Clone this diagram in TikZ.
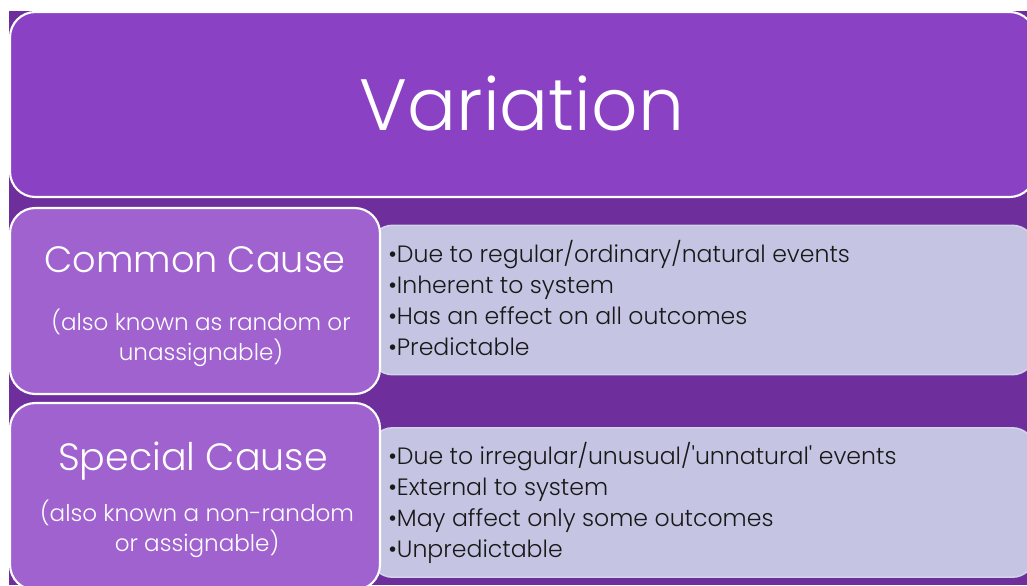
\documentclass[tikz,border=0pt]{standalone}
\usepackage{fontspec}
\setmainfont{Poppins}[UprightFont=* Light]
\definecolor{slidebg}{HTML}{6E2F9D}
\definecolor{topfill}{HTML}{8B41C3}
\definecolor{causefill}{HTML}{A062CF}
\definecolor{listfill}{HTML}{C5C5E3}
\definecolor{listedge}{HTML}{D2D2EA}
\begin{document}
\begin{tikzpicture}[x=0.75pt,y=-0.75pt,
  topbox/.style={draw=white,line width=1.6pt,rounded corners=19pt,fill=topfill,inner sep=0pt},
  causebox/.style={draw=white,line width=1.6pt,rounded corners=19pt,fill=causefill,inner sep=0pt,
    minimum width=277.5pt,minimum height=139.5pt},
  listbox/.style={draw=listedge,line width=1.2pt,rounded corners=17pt,fill=listfill,inner sep=0pt,
    minimum width=498.75pt,minimum height=112pt},
  heading/.style={text=white,font=\fontsize{27.5}{30}\selectfont},
  aside/.style={text=white,font=\fontsize{17.3}{22.5}\selectfont,align=center},
  points/.style={text=black!90,font=\fontsize{17.7}{23.3}\selectfont,align=left,anchor=north west,inner sep=0pt}]
\fill[white] (0,0) rectangle (1027,585);
\useasboundingbox (0,0) rectangle (1027,585);
\fill[slidebg] (9,11) rectangle (1027,585);
% title
\node[topbox,minimum width=768.75pt,minimum height=138.75pt] (top) at (522.5,104.5) {};
\node[text=white,font=\fontsize{54.5}{58}\selectfont] (title) at (522,103) {Variation};
% common cause
\node[listbox] (commonlist) at (702.5,300) {};
\node[causebox] (common) at (195,301) {};
\node[heading] (commonhead) at (195,260) {Common Cause};
\node[aside] (commonnote) at (201,338) {(also known as random or\\unassignable)};
\node[points] (commonpts) at (388,240) {\textbullet Due to regular/ordinary/natural events\\
  \textbullet Inherent to system\\
  \textbullet Has an effect on all outcomes\\
  \textbullet Predictable};
% special cause
\node[listbox] (speciallist) at (702.5,502.5) {};
\node[causebox,minimum height=140.25pt] (special) at (195,496.5) {};
\node[heading,font=\fontsize{28.5}{30}\selectfont] (specialhead) at (193,461) {Special Cause};
\node[aside] (specialnote) at (197,529) {(also known a non-random\\or assignable)};
\node[points] (specialpts) at (388,442) {\textbullet Due to irregular/unusual/\textquotesingle unnatural\textquotesingle{} events\\
  \textbullet External to system\\
  \textbullet May affect only some outcomes\\
  \textbullet Unpredictable};
\end{tikzpicture}
\end{document}
